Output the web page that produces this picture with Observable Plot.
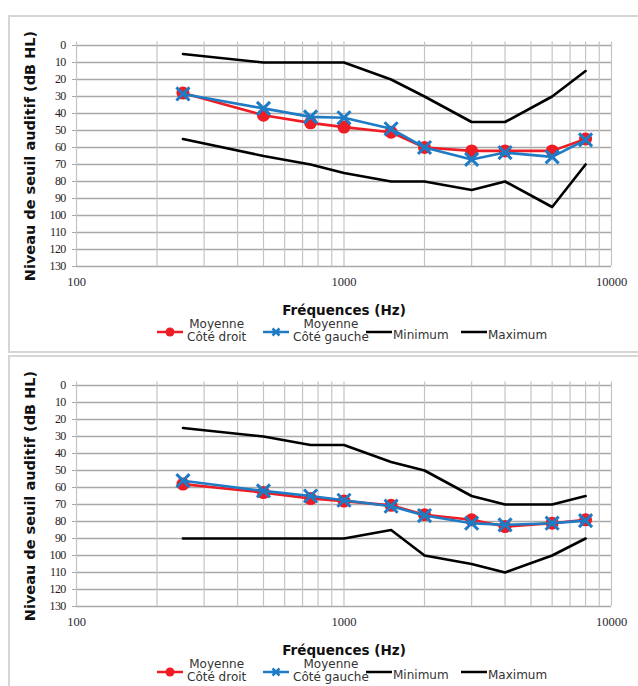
<!DOCTYPE html>
<html>
<head>
<meta charset="utf-8">
<script src="https://cdn.jsdelivr.net/npm/d3@7"></script>
<script src="https://cdn.jsdelivr.net/npm/@observablehq/plot@0.6"></script>
<style>
  html, body { margin: 0; padding: 0; background: #fff; }
  body { width: 638px; height: 686px; overflow: hidden; position: relative; font-family: "DejaVu Sans", sans-serif; }
  .panel { position: absolute; left: 8px; width: 640px; border: 2px solid #d6d6d6; box-sizing: border-box; }
  .chart { position: absolute; left: 0; }
  .chart svg { overflow: visible; }
  .chart g[aria-label="y-axis tick label"] text { font-family: "Liberation Serif", serif; font-size: 12px; letter-spacing: -0.7px; fill: #2b1a22; }
  .chart g[aria-label="x-axis tick label"] text { font-family: "Liberation Serif", serif; font-size: 12.5px; fill: #2a2a33; }
  .chart g[aria-label="y-axis label"] text { font-family: "DejaVu Sans", sans-serif; font-weight: bold; font-size: 14.5px; fill: #111; }
  .chart g[aria-label="x-axis label"] text { font-family: "DejaVu Sans", sans-serif; font-weight: bold; font-size: 13.5px; fill: #111; }
  .legend-item { position: absolute; display: flex; align-items: center; font-size: 12px; color: #333; line-height: 13px; }
  .legend-item .txt { text-align: center; }
</style>
</head>
<body>
<div class="panel" style="top:15px;height:338px;"></div>
<div class="panel" style="top:355px;height:340px;"></div>
<script>
// ---- Data ----
const frequencies = [250, 500, 750, 1000, 1500, 2000, 3000, 4000, 6000, 8000];

// Panel 1
const droit1  = [28, 41, 45.5, 48, 51, 60, 62, 62, 62, 55];
const gauche1 = [28.5, 37, 42, 42.5, 49, 60, 67, 63, 65.5, 55.5];
const min1    = [5, 10, 10, 10, 20, 30, 45, 45, 30, 15];
const max1    = [55, 65, 70, 75, 80, 80, 85, 80, 95, 70];

// Panel 2
const droit2  = [58, 63, 66.5, 68, 70.5, 76, 79, 83, 81, 79];
const gauche2 = [56, 62, 65, 67.5, 71, 76.5, 81, 82, 81, 79.5];
const min2    = [25, 30, 35, 35, 45, 50, 65, 70, 70, 65];
const max2    = [90, 90, 90, 90, 85, 100, 105, 110, 100, 90];

// Ticks / grid
const yTicks = [0, 10, 20, 30, 40, 50, 60, 70, 80, 90, 100, 110, 120, 130];
const xTickLabels = [100, 1000, 10000];
const xGrid = [100, 200, 300, 400, 500, 600, 700, 800, 900, 1000, 2000, 3000, 4000, 5000, 6000, 7000, 8000, 9000, 10000];

const legendLabels = [["Moyenne", "Côté droit"], ["Moyenne", "Côté gauche"], ["Minimum"], ["Maximum"]];

const RED = "#ee1c25", BLUE = "#1f7bc4", BLACK = "#000";

function rows(vals) { return frequencies.map((f, i) => ({f, v: vals[i]})); }

function makeChart(droit, gauche, mn, mx) {
  return Plot.plot({
    width: 638, height: 320,
    marginLeft: 76, marginRight: 27, marginTop: 45, marginBottom: 54,
    style: {background: "transparent", overflow: "visible"},
    x: {type: "log", domain: [100, 10000]},
    y: {domain: [0, 130], reverse: true},
    marks: [
      Plot.ruleY(yTicks, {stroke: "#a9a9a9", strokeWidth: 1.3}),
      Plot.ruleX(xGrid, {y1: -2, y2: 130, stroke: "#c4c4c4", strokeWidth: 1.2}),
      Plot.axisY(yTicks, {tickSize: 4, tickPadding: 7, stroke: "#a9a9a9", label: "Niveau de seuil auditif (dB HL)", labelAnchor: "center", labelArrow: "none", labelOffset: 52}),
      Plot.axisX(xTickLabels, {tickSize: 0, tickPadding: 11, tickFormat: d => String(d), label: "Fréquences (Hz)", labelAnchor: "center", labelArrow: "none", labelOffset: 48}),
      Plot.line(rows(mn), {x: "f", y: "v", stroke: BLACK, strokeWidth: 2.6}),
      Plot.line(rows(mx), {x: "f", y: "v", stroke: BLACK, strokeWidth: 2.6}),
      Plot.line(rows(droit), {x: "f", y: "v", stroke: RED, strokeWidth: 2.6}),
      Plot.dot(rows(droit), {x: "f", y: "v", r: 6.5, fill: RED}),
      Plot.line(rows(gauche), {x: "f", y: "v", stroke: BLUE, strokeWidth: 2.6}),
      Plot.dot(rows(gauche), {x: "f", y: "v", symbol: "times", r: 6, stroke: BLUE, strokeWidth: 3})
    ]
  });
}

function swatch(color, marker) {
  let m = "";
  if (marker === "circle") m = `<circle cx="13" cy="7" r="4.5" fill="${color}"/>`;
  if (marker === "times") m = `<path d="M9.5,3.5L16.5,10.5M16.5,3.5L9.5,10.5" stroke="${color}" stroke-width="2.5"/>`;
  return `<svg width="26" height="14" style="display:block"><line x1="0" y1="7" x2="26" y2="7" stroke="${color}" stroke-width="2.5"/>${m}</svg>`;
}

function makeLegend(top) {
  const cfg = [
    {left: 157, color: RED, marker: "circle"},
    {left: 263, color: BLUE, marker: "times"},
    {left: 366, color: BLACK, marker: null},
    {left: 461, color: BLACK, marker: null}
  ];
  cfg.forEach((c, i) => {
    const d = document.createElement("div");
    d.className = "legend-item";
    d.style.left = c.left + "px";
    d.style.top = top + "px";
    d.style.height = "28px";
    const lines = legendLabels[i];
    d.innerHTML = swatch(c.color, c.marker) + `<div class="txt" style="margin-left:${lines.length > 1 ? 4 : 1}px;margin-top:${lines.length > 1 ? -2 : 6}px">${lines.join("<br>")}</div>`;
    document.body.appendChild(d);
  });
}

const c1 = document.createElement("div");
c1.className = "chart"; c1.style.top = "0px";
c1.appendChild(makeChart(droit1, gauche1, min1, max1));
document.body.appendChild(c1);

const c2 = document.createElement("div");
c2.className = "chart"; c2.style.top = "340px";
c2.appendChild(makeChart(droit2, gauche2, min2, max2));
document.body.appendChild(c2);

makeLegend(318);
makeLegend(658);
</script>
</body>
</html>
